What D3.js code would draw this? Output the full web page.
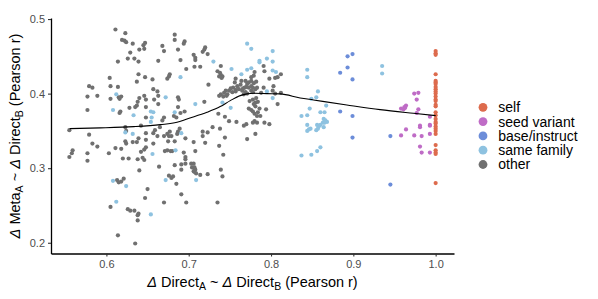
<!DOCTYPE html>
<html>
<head>
<meta charset="utf-8">
<script src="https://cdn.jsdelivr.net/npm/d3@7"></script>
<style>
body { margin: 0; background: #fff; }
text { font-family: "Liberation Sans", Arial, sans-serif; }
</style>
</head>
<body>
<svg id="chart" width="598" height="299"></svg>
<script>
"use strict"

// [direct similarity, meta similarity]
const otherPts = [
    [0.611,0.486],[0.623,0.481],[0.619,0.472],[0.622,0.471],[0.624,0.469],[0.632,0.467],[0.645,0.465],[0.647,0.468],
    [0.646,0.460],[0.640,0.459],[0.629,0.455],[0.626,0.447],[0.634,0.447],[0.614,0.443],[0.668,0.464],[0.670,0.457],
    [0.663,0.444],[0.639,0.426],[0.647,0.422],[0.656,0.419],[0.637,0.416],[0.604,0.421],[0.579,0.410],[0.583,0.408],
    [0.605,0.410],[0.614,0.409],[0.657,0.406],[0.662,0.403],[0.663,0.397],[0.577,0.396],[0.589,0.397],[0.605,0.393],
    [0.615,0.395],[0.618,0.396],[0.616,0.393],[0.640,0.394],[0.646,0.397],[0.648,0.392],[0.638,0.389],[0.637,0.384],
    [0.635,0.382],[0.628,0.381],[0.648,0.382],[0.658,0.392],[0.663,0.386],[0.577,0.378],[0.617,0.376],[0.616,0.374],
    [0.648,0.368],[0.670,0.368],[0.668,0.364],[0.555,0.351],[0.579,0.345],[0.623,0.355],[0.624,0.350],[0.642,0.357],
    [0.648,0.347],[0.657,0.347],[0.659,0.351],[0.665,0.355],[0.583,0.333],[0.589,0.329],[0.559,0.324],[0.558,0.320],
    [0.555,0.315],[0.577,0.320],[0.577,0.310],[0.603,0.320],[0.611,0.327],[0.618,0.326],[0.623,0.336],[0.624,0.333],
    [0.632,0.335],[0.637,0.335],[0.639,0.340],[0.648,0.338],[0.657,0.333],[0.662,0.343],[0.670,0.343],[0.671,0.323],
    [0.648,0.328],[0.646,0.325],[0.642,0.322],[0.638,0.312],[0.644,0.314],[0.646,0.311],[0.620,0.313],[0.627,0.313],
    [0.664,0.302],[0.640,0.297],[0.613,0.284],[0.615,0.281],[0.618,0.282],[0.621,0.286],[0.650,0.272],[0.647,0.260],
    [0.605,0.248],[0.626,0.245],[0.629,0.243],[0.634,0.243],[0.639,0.239],[0.638,0.237],[0.670,0.254],[0.638,0.230],
    [0.614,0.210],[0.635,0.199],[0.676,0.343],[0.679,0.343],[0.675,0.336],[0.683,0.336],[0.696,0.340],[0.706,0.335],
    [0.717,0.343],[0.720,0.334],[0.744,0.341],[0.771,0.339],[0.737,0.330],[0.674,0.324],[0.678,0.323],[0.680,0.323],
    [0.694,0.321],[0.708,0.323],[0.696,0.315],[0.696,0.312],[0.742,0.318],[0.683,0.304],[0.691,0.305],[0.696,0.306],
    [0.691,0.298],[0.703,0.306],[0.706,0.306],[0.704,0.301],[0.707,0.301],[0.708,0.298],[0.706,0.296],[0.707,0.295],
    [0.739,0.298],[0.709,0.293],[0.714,0.291],[0.723,0.292],[0.741,0.289],[0.676,0.290],[0.679,0.287],[0.681,0.289],
    [0.685,0.279],[0.691,0.265],[0.697,0.254],[0.735,0.254],[0.683,0.479],[0.683,0.472],[0.695,0.470],[0.694,0.467],
    [0.687,0.459],[0.720,0.462],[0.719,0.459],[0.717,0.456],[0.723,0.453],[0.706,0.452],[0.708,0.448],[0.708,0.445],
    [0.690,0.445],[0.707,0.436],[0.714,0.436],[0.697,0.433],[0.739,0.437],[0.735,0.430],[0.738,0.428],[0.739,0.425],
    [0.741,0.423],[0.740,0.421],[0.737,0.423],[0.780,0.429],[0.779,0.424],[0.776,0.422],[0.792,0.430],[0.791,0.437],
    [0.677,0.426],[0.676,0.423],[0.674,0.420],[0.757,0.420],[0.756,0.415],[0.764,0.417],[0.769,0.417],[0.771,0.413],
    [0.763,0.412],[0.759,0.410],[0.754,0.408],[0.757,0.405],[0.749,0.404],[0.751,0.407],[0.745,0.404],[0.743,0.401],
    [0.739,0.399],[0.737,0.397],[0.742,0.396],[0.746,0.397],[0.747,0.399],[0.753,0.402],[0.757,0.403],[0.761,0.406],
    [0.766,0.407],[0.768,0.408],[0.770,0.409],[0.773,0.408],[0.776,0.410],[0.778,0.408],[0.776,0.404],[0.778,0.402],
    [0.781,0.406],[0.783,0.408],[0.773,0.415],[0.776,0.417],[0.779,0.414],[0.782,0.416],[0.765,0.404],[0.769,0.402],
    [0.771,0.400],[0.767,0.399],[0.724,0.412],[0.719,0.389],[0.695,0.376],[0.690,0.374],[0.687,0.395],[0.688,0.392],
    [0.687,0.382],[0.682,0.370],[0.685,0.368],[0.736,0.373],[0.744,0.369],[0.749,0.363],[0.758,0.362],[0.770,0.359],
    [0.767,0.357],[0.773,0.380],[0.776,0.378],[0.778,0.376],[0.780,0.373],[0.783,0.370],[0.784,0.375],[0.786,0.380],
    [0.781,0.383],[0.779,0.386],[0.781,0.388],[0.784,0.389],[0.782,0.394],[0.778,0.392],[0.774,0.390],[0.780,0.363],
    [0.778,0.361],[0.792,0.361],[0.781,0.346],[0.798,0.359],[0.689,0.353],[0.687,0.349],[0.686,0.346],[0.677,0.349],
    [0.674,0.346],[0.717,0.349],[0.723,0.348],[0.729,0.355],[0.802,0.404],[0.798,0.420],[0.805,0.421],[0.808,0.422],
    [0.812,0.426],[0.791,0.408],[0.788,0.401],[0.812,0.401],[0.805,0.400],[0.808,0.386],[0.794,0.379],[0.803,0.410],
    [0.787,0.370],[0.783,0.361],[0.738,0.353],[0.639,0.443]
]

const sameFamilyPts = [
    [0.802,0.457],[0.795,0.447],[0.786,0.444],[0.786,0.442],[0.802,0.443],[0.802,0.431],[0.806,0.429],[0.795,0.403],
    [0.802,0.394],[0.844,0.432],[0.844,0.422],[0.857,0.403],[0.855,0.395],[0.849,0.393],[0.867,0.384],[0.847,0.380],
    [0.837,0.370],[0.844,0.371],[0.860,0.375],[0.865,0.375],[0.864,0.366],[0.866,0.364],[0.868,0.362],[0.863,0.361],
    [0.865,0.361],[0.856,0.358],[0.858,0.356],[0.860,0.358],[0.844,0.358],[0.848,0.353],[0.846,0.352],[0.844,0.350],
    [0.855,0.351],[0.857,0.353],[0.864,0.355],[0.860,0.328],[0.856,0.323],[0.849,0.318],[0.837,0.317],[0.935,0.437],
    [0.935,0.427],[0.771,0.467],[0.776,0.460],[0.764,0.426],[0.771,0.432],[0.776,0.434],[0.752,0.433],[0.730,0.443],
    [0.690,0.422],[0.741,0.388],[0.751,0.381],[0.708,0.386],[0.683,0.375],[0.672,0.395],[0.691,0.347],[0.612,0.399],
    [0.608,0.378],[0.633,0.371],[0.654,0.376],[0.657,0.375],[0.655,0.368],[0.654,0.362],[0.623,0.348],[0.632,0.346],
    [0.656,0.319],[0.672,0.284],[0.684,0.324],[0.709,0.284],[0.608,0.283],[0.624,0.276],[0.612,0.255],[0.654,0.238]
]

const baseInstructPts = [
    [0.893,0.450],[0.899,0.453],[0.893,0.435],[0.884,0.428],[0.899,0.419],[0.884,0.376],[0.899,0.370],[0.899,0.341],
    [0.945,0.343],[0.945,0.278]
]

const seedVariantPts = [
    [0.974,0.400],[0.979,0.401],[0.977,0.392],[0.964,0.384],[0.962,0.382],[0.958,0.380],[0.961,0.379],[0.963,0.381],
    [0.979,0.379],[0.977,0.374],[0.993,0.369],[0.981,0.357],[0.981,0.355],[0.993,0.358],[0.993,0.357],[0.964,0.352],
    [0.958,0.344],[0.974,0.344],[0.983,0.343],[0.993,0.346],[0.981,0.329],[0.983,0.321],[0.993,0.321]
]

const selfPts = [
    [1.0,0.457],[1.0,0.454],[1.0,0.452],[1.0,0.426],[1.0,0.417],[1.0,0.415],[1.0,0.413],[1.0,0.409],
    [1.0,0.406],[1.0,0.403],[1.0,0.400],[1.0,0.396],[1.0,0.392],[1.0,0.390],[1.0,0.385],[1.0,0.383],
    [1.0,0.375],[1.0,0.371],[1.0,0.366],[1.0,0.362],[1.0,0.360],[1.0,0.356],[1.0,0.353],[1.0,0.350],
    [1.0,0.346],[1.0,0.331],[1.0,0.324],[1.0,0.321],[1.0,0.319],[1.0,0.280]
]

// smoothed trend
const trendX = [0.5555,0.5927,0.6331,0.6655,0.6858,0.6979,0.7222,0.7383,0.7505,0.7626,0.7708,0.7788,0.795,0.8112,0.8354,0.8516,0.8921,0.9325,0.9729,1.0]
const trendY = [0.353,0.354,0.3557,0.3584,0.3615,0.366,0.3749,0.3826,0.3906,0.3973,0.3996,0.4004,0.4,0.3996,0.3942,0.3915,0.3848,0.3785,0.3736,0.3705]

const xTicks = [0.6, 0.7, 0.8, 0.9, 1.0]
const yTicks = [0.2, 0.3, 0.4, 0.5]

const groupNames = ["self", "seed variant", "base/instruct", "same family", "other"]
const groupColors = ["#DD6B4D", "#BF6CC6", "#6C8DD9", "#8EC2E0", "#707070"]

const svg = d3.select("#chart")

const x = d3.scaleLinear().domain([0.5327, 1.0223]).range([51, 454])
const y = d3.scaleLinear().domain([0.1856, 0.5014]).range([253.5, 18])
const color = d3.scaleOrdinal().domain(groupNames).range(groupColors)

const xAxis = d3.axisBottom(x).tickValues(xTicks).tickFormat(d3.format(".1f")).tickSize(3).tickSizeOuter(0).tickPadding(4)
const yAxis = d3.axisLeft(y).tickValues(yTicks).tickFormat(d3.format(".1f")).tickSize(3).tickSizeOuter(0).tickPadding(3)

const gx = svg.append("g")
    .attr("transform", "translate(0," + 253.5 + ")")
    .call(xAxis)
const gy = svg.append("g")
    .attr("transform", "translate(" + 51 + ",0)")
    .call(yAxis)

for (const g of [gx, gy]) {
    g.select(".domain").attr("stroke", "#000").attr("stroke-width", 1.3)
    g.selectAll(".tick line").attr("stroke", "#333").attr("stroke-width", 1.1)
    g.selectAll(".tick text").attr("fill", "#4D4D4D").style("font-size", "11px")
        .style("font-family", "'Liberation Sans', Arial, sans-serif")
}

// points, drawn group by group so the coloured ones sit on top
const layers = [
    ["other", otherPts],
    ["same family", sameFamilyPts],
    ["base/instruct", baseInstructPts],
    ["seed variant", seedVariantPts],
    ["self", selfPts]
]

for (const [name, pts] of layers) {
    svg.append("g").selectAll("circle")
        .data(pts)
        .enter()
        .append("circle")
        .attr("cx", d => x(d[0]))
        .attr("cy", d => y(d[1]))
        .attr("r", 2.1)
        .style("fill", color(name))
}

const trend = d3.line()
    .x((d, i) => x(trendX[i]))
    .y(d => y(d))
    .curve(d3.curveMonotoneX)

svg.append("path")
    .attr("d", trend(trendY))
    .style("fill", "none")
    .style("stroke", "#000")
    .style("stroke-width", 1.1)

// axis titles with italic deltas and subscripts
function title(sel, a, b) {
    sel.append("tspan").style("font-style", "italic").text("\u0394")
    sel.append("tspan").text(" " + a)
    sel.append("tspan").attr("dy", 3).style("font-size", "10.5px").text("A")
    sel.append("tspan").attr("dy", -3).text(" ~ ")
    sel.append("tspan").style("font-style", "italic").text("\u0394")
    sel.append("tspan").text(" " + b)
    sel.append("tspan").attr("dy", 3).style("font-size", "10.5px").text("B")
    sel.append("tspan").attr("dy", -3).text(" (Pearson r)")
}

svg.append("text")
    .attr("x", 252.5)
    .attr("y", 287)
    .attr("text-anchor", "middle")
    .style("font-size", "14.5px")
    .style("fill", "#000")
    .call(title, "Direct", "Direct")

svg.append("text")
    .attr("transform", "translate(20,136) rotate(-90)")
    .attr("text-anchor", "middle")
    .style("font-size", "14.5px")
    .style("fill", "#000")
    .call(title, "Meta", "Direct")

// legend
const legend = svg.append("g").selectAll("g")
    .data(groupNames)
    .enter()
    .append("g")
    .attr("transform", (d, i) => "translate(483," + (107.3 + i * 14.3) + ")")

legend.append("circle")
    .attr("r", 4.4)
    .style("fill", d => color(d))

legend.append("text")
    .attr("x", 15.3)
    .attr("dy", "0.35em")
    .style("font-size", "14px")
    .style("fill", "#000")
    .text(d => d)
</script>
</body>
</html>
